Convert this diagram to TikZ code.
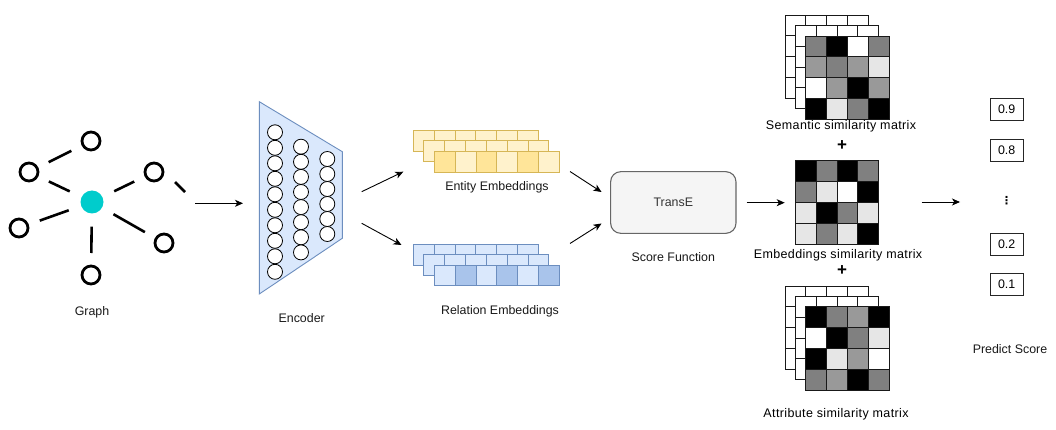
\documentclass[tikz,border=0pt]{standalone}
\usepackage{fontspec}
\setmainfont{Liberation Sans}
\newfontfamily\dejavu{DejaVu Sans}
\usetikzlibrary{arrows.meta}
\definecolor{encfill}{HTML}{DAE8FC}
\definecolor{encdraw}{HTML}{6C8EBF}
\definecolor{entlight}{HTML}{FFF2CC}
\definecolor{entdark}{HTML}{FFE599}
\definecolor{entdraw}{HTML}{D6B656}
\definecolor{rellight}{HTML}{DAE8FC}
\definecolor{reldark}{HTML}{A9C4EB}
\definecolor{reldraw}{HTML}{6C8EBF}
\definecolor{gteal}{HTML}{00CCCC}
\definecolor{tfill}{HTML}{F5F5F5}
\definecolor{tdraw}{HTML}{666666}
\definecolor{ttext}{HTML}{333333}
\definecolor{mk}{HTML}{000000}
\definecolor{mg}{HTML}{808080}
\definecolor{mh}{HTML}{999999}
\definecolor{ml}{HTML}{E6E6E6}
\definecolor{mw}{HTML}{FFFFFF}
\newcommand\mymtx[3]{%
  \foreach \v [count=\n from 0] in {#3} {%
    \pgfmathsetmacro\cx{#1+20.8*mod(\n,4)}%
    \pgfmathsetmacro\cy{#2+20.8*floor(\n/4)}%
    \draw[mline,fill=\v] (\cx,\cy) rectangle +(20.8,20.8);
  }%
}
\newcommand\myrow[5]{%
  % x, y, draw colour, list of fills, height
  \foreach \v [count=\n from 0] in {#4} {%
    \pgfmathsetmacro\cx{#1+20.83*\n}%
    \draw[draw=#3,line width=0.8pt,fill=\v] (\cx,#2) rectangle +(20.83,#5);
  }%
}
\begin{document}
\begin{tikzpicture}[x=1pt,y=-1pt,
  font=\fontsize{12.4}{14}\selectfont,
  ring/.style={circle,draw=black,line width=2.8pt,minimum size=18pt,inner sep=0pt,outer sep=0pt},
  gedge/.style={line width=2.6pt,shorten <=13pt,shorten >=13pt},
  arr/.style={line width=0.9pt,-{Stealth[length=8pt,width=7pt,inset=2.2pt]}},
  neuron/.style={circle,draw=black,fill=white,line width=0.8pt,minimum size=15pt,inner sep=0pt},
  lbl/.style={text=black!90,inner sep=0pt},
  plus/.style={text=black,inner sep=0pt,font=\fontsize{17}{17}\selectfont\bfseries},
  mlbl/.style={text=black,inner sep=0pt,font=\fontsize{12.5}{14}\selectfont\addfontfeature{LetterSpace=3}},
  scorebox/.style={draw=black!85,line width=0.9pt,minimum width=33pt,minimum height=22pt,inner sep=0pt},
  mline/.style={draw=black!90,line width=0.8pt}]
\fill[white] (0,0) rectangle (1056,430);
\useasboundingbox (0,0) rectangle (1056,430);

% ---------------- Graph ----------------
\node[ring] (gtop) at (91,141) {};
\node[ring] (gul) at (29,172) {};
\node[ring] (gur) at (154,172) {};
\node[ring] (gl) at (19,228) {};
\node[ring] (glr) at (164,243) {};
\node[ring] (gb) at (91,275) {};
\node[circle,fill=gteal,minimum size=23pt,inner sep=0pt] (gc) at (92,202) {};
\draw[gedge] (gul) -- (gtop);
\draw[gedge] (gul) -- (gc);
\draw[gedge] (gc) -- (gur);
\draw[gedge] (gl) -- (gc);
\draw[gedge] (gc) -- (glr);
\draw[gedge] (gc) -- (gb);
\coordinate (gdA) at (175,182);
\coordinate (gdB) at (185,192);
\draw[line width=2.6pt] (gdA) -- (gdB);
\node[lbl] (glabel) at (92,312) {Graph};

% ---------------- Encoder ----------------
\draw[fill=encfill,draw=encdraw,line width=0.9pt] (259.3,101.7) -- (342.3,151.7) -- (342.3,238.3) -- (259.3,294) -- cycle;
\foreach \i in {0,...,9} \node[neuron] (na\i) at (275,{132.3+15.5*\i}) {};
\foreach \i in {0,...,7} \node[neuron] (nb\i) at (301,{146.7+15.1*\i}) {};
\foreach \i in {0,...,5} \node[neuron] (nc\i) at (327.3,{159+15*\i}) {};
\node[lbl] (elabel) at (301.7,318) {Encoder};
\coordinate (ga) at (195,203.3);
\coordinate (gz) at (243,203.3);
\draw[arr] (ga) -- (gz);

% ---------------- Embeddings ----------------
\myrow{413.3}{130}{entdraw}{entlight,entlight,entlight,entlight,entlight,entlight}{21}
\myrow{423.8}{140.5}{entdraw}{entlight,entlight,entlight,entlight,entlight,entlight}{21}
\myrow{434.3}{151}{entdraw}{entdark,entlight,entdark,entlight,entdark,entlight}{21}
\node[lbl] (entlabel) at (497,187) {Entity Embeddings};

\myrow{413.3}{244.3}{reldraw}{rellight,rellight,rellight,rellight,rellight,rellight}{21}
\myrow{423.8}{254.8}{reldraw}{rellight,rellight,rellight,rellight,rellight,rellight}{21}
\myrow{434.3}{265.3}{reldraw}{rellight,reldark,rellight,reldark,rellight,reldark}{20.5}
\node[lbl] (rellabel) at (500,311) {Relation Embeddings};

\coordinate (ea1) at (361.7,191.7);
\coordinate (ea2) at (403.3,171.7);
\coordinate (ra1) at (361.7,223.3);
\coordinate (ra2) at (401.5,245);
\draw[arr] (ea1) -- (ea2);
\draw[arr] (ra1) -- (ra2);

% ---------------- TransE ----------------
\node[draw=tdraw,fill=tfill,line width=1.1pt,rounded corners=10pt,minimum width=125.3pt,minimum height=61.6pt,inner sep=0pt,text=ttext] (transe) at (673.3,202.5) {TransE};
\node[lbl] (sflabel) at (673.3,256.7) {Score Function};
\coordinate (eb1) at (570,171.5);
\coordinate (eb2) at (601.5,192);
\coordinate (rb1) at (570,243.5);
\coordinate (rb2) at (601.5,223.5);
\draw[arr] (eb1) -- (eb2);
\draw[arr] (rb1) -- (rb2);

% ---------------- Matrices ----------------
% semantic
\mymtx{785}{15}{mw,mw,mw,mw,mw,mw,mw,mw,mw,mw,mw,mw,mw,mw,mw,mw}
\mymtx{795.4}{25.5}{mw,mw,mw,mw,mw,mw,mw,mw,mw,mw,mw,mw,mw,mw,mw,mw}
\mymtx{805.7}{36}{mg,mk,mw,mg,mh,mg,mh,ml,mw,mh,mk,mh,mk,ml,mg,mk}
\node[mlbl] (semlabel) at (841,126) {Semantic similarity matrix};
\node[plus] (plus1) at (842,146) {+};
% embeddings
\node[minimum width=83.2pt,minimum height=83.2pt,inner sep=0pt] (embm) at (837,202.5) {};
\mymtx{795.4}{160.9}{mk,mg,mk,mg,mg,ml,mw,mk,ml,mk,mg,ml,ml,mg,ml,mk}
\node[mlbl] (emblabel) at (838,255.5) {Embeddings similarity matrix};
\node[plus] (plus2) at (842,271) {+};
% attribute
\mymtx{785}{286}{mw,mw,mw,mw,mw,mw,mw,mw,mw,mw,mw,mw,mw,mw,mw,mw}
\mymtx{795.4}{296.4}{mw,mw,mw,mw,mw,mw,mw,mw,mw,mw,mw,mw,mw,mw,mw,mw}
\mymtx{805.7}{306.7}{mk,mg,mh,mk,mw,mk,mg,ml,mk,ml,mh,mw,mg,mh,mk,mg}
\node[mlbl] (attlabel) at (836,414) {Attribute similarity matrix};

\draw[arr,shorten <=10pt,shorten >=10.5pt] (transe.east |- 0,202.7) -- (embm.west |- 0,202.7);

% ---------------- Scores ----------------
\node[scorebox] (s9) at (1006.7,109) {0.9};
\node[scorebox] (s8) at (1006.7,150) {0.8};
\node[inner sep=0pt,font=\dejavu\fontsize{11}{12}\selectfont\bfseries] (sdots) at (1006.7,201) {⋮};
\node[scorebox] (s2) at (1006.7,244) {0.2};
\node[scorebox] (s1) at (1006.7,284) {0.1};
\node[lbl] (pslabel) at (1010,349) {Predict Score};
\coordinate (pa1) at (921.7,202);
\coordinate (pa2) at (960,202);
\draw[arr] (pa1) -- (pa2);
\end{tikzpicture}
\end{document}
